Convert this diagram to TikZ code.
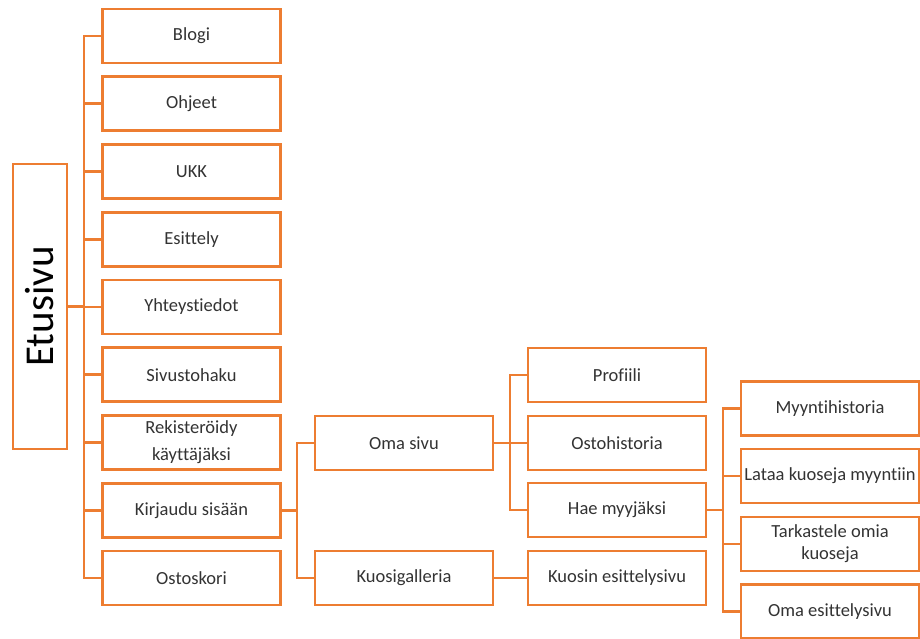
\documentclass[tikz,border=0pt]{standalone}
\usepackage{fontspec}
\setmainfont{Carlito}[Ligatures={NoCommon}]
\usepackage{xcolor}
\usepackage{tikz}

\definecolor{sitemaporange}{HTML}{ED7D31}
\definecolor{sitemaptext}{HTML}{333333}

\tikzset{
  page/.style={draw=sitemaporange, line width=2.6pt, fill=white,
    minimum width=178pt, minimum height=54pt, inner sep=0pt,
    align=center, text=sitemaptext, font=\fontsize{18.5}{22}\selectfont},
  link/.style={draw=sitemaporange, line width=2.6pt, line cap=rect},
}

\begin{document}
\begin{tikzpicture}[x=1pt,y=-1pt]
  \clip (0,0) rectangle (920,639);
  \def\dy{67.75}
  \coordinate (trunk) at (84,0);
  \coordinate (trunk two) at (297,0);
  \coordinate (trunk three) at (510,0);
  \coordinate (trunk four) at (723,0);

  \node[page, rotate=90, minimum width=285pt, minimum height=54pt,
    text=black, font=\fontsize{41}{48}\selectfont]
    (etusivu) at (40,306.5) {Etusivu};

  \foreach \name/\label [count=\i from 0] in
    {blogi/Blogi, ohjeet/Ohjeet, ukk/UKK, esittely/Esittely,
     yhteystiedot/Yhteystiedot, haku/Sivustohaku,
     rekisteroidy/{Rekisteröidy\\[5pt]käyttäjäksi},
     kirjaudu/Kirjaudu sisään, ostoskori/Ostoskori}
    \node[page] (\name) at (191.5, 36+\i*\dy) {\label};

  \node[page] (omasivu) at (404,443) {Oma sivu};
  \node[page] (galleria) at (404,578) {Kuosigalleria};

  \node[page] (profiili) at (617,375) {Profiili};
  \node[page] (ostohistoria) at (617,443) {Ostohistoria};
  \node[page] (myyja) at (617,510) {Hae myyjäksi};
  \node[page] (kuosisivu) at (617,578) {Kuosin esittelysivu};

  \node[page] (myyntihistoria) at (830,408.5) {Myyntihistoria};
  \node[page] (lataa) at (830,476) {Lataa kuoseja myyntiin};
  \node[page] (omatkuosit) at (830,544) {Tarkastele omia\\kuoseja};
  \node[page] (esittelysivu) at (830,611.5) {Oma esittelysivu};

  % first level
  \draw[link] (etusivu) -- (etusivu -| trunk);
  \draw[link] (blogi.west -| trunk) -- (ostoskori.west -| trunk);
  \foreach \name in {blogi, ohjeet, ukk, esittely, yhteystiedot, haku,
    rekisteroidy, kirjaudu, ostoskori}
    \draw[link] (\name.west) -- (\name.west -| trunk);

  % kirjaudu sisaan
  \draw[link] (kirjaudu.east) -- (kirjaudu.east -| trunk two);
  \draw[link] (omasivu.west -| trunk two) -- (galleria.west -| trunk two);
  \foreach \name in {omasivu, galleria}
    \draw[link] (\name.west) -- (\name.west -| trunk two);

  % oma sivu
  \draw[link] (omasivu.east) -- (omasivu.east -| trunk three);
  \draw[link] (profiili.west -| trunk three) -- (myyja.west -| trunk three);
  \foreach \name in {profiili, ostohistoria, myyja}
    \draw[link] (\name.west) -- (\name.west -| trunk three);
  \draw[link] (galleria.east) -- (kuosisivu.west);

  % hae myyjaksi
  \draw[link] (myyja.east) -- (myyja.east -| trunk four);
  \draw[link] (myyntihistoria.west -| trunk four)
    -- (esittelysivu.west -| trunk four);
  \foreach \name in {myyntihistoria, lataa, omatkuosit, esittelysivu}
    \draw[link] (\name.west) -- (\name.west -| trunk four);
\end{tikzpicture}
\end{document}
